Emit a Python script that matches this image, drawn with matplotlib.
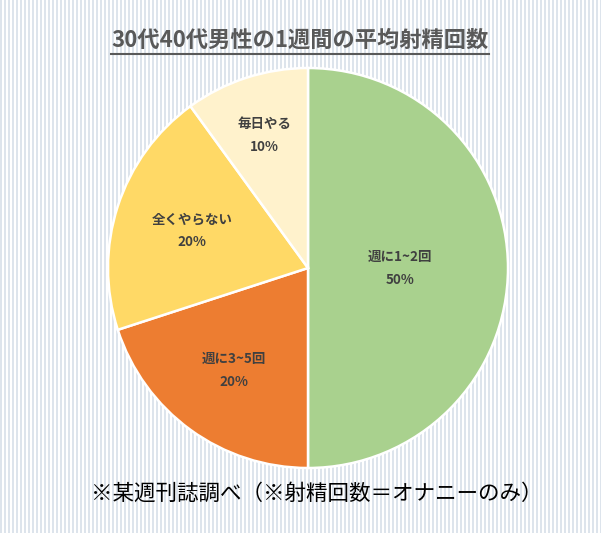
import numpy as np
import matplotlib
matplotlib.use("Agg")
import matplotlib.pyplot as plt
from matplotlib.lines import Line2D

plt.rcParams['font.family'] = ['Noto Sans CJK JP', 'DejaVu Sans']

title = "30代40代男性の1週間の平均射精回数"
categories = ["週に1~2回", "週に3~5回", "全くやらない", "毎日やる"]
values = [50, 20, 20, 10]
colors = ["#A9D18E", "#ED7D31", "#FFD966", "#FFF2CC"]
label_dist = [0.46, 0.63, 0.61, 0.70]
footnote = "※某週刊誌調べ（※射精回数＝オナニーのみ）"

W, H = 601, 533
fig = plt.figure(figsize=(W / 100, H / 100), dpi=100)

# striped background
bg = np.ones((H, W, 3))
stripe = np.array([0xDD, 0xE4, 0xEC]) / 255.0
cols = np.arange(W)
mask = (cols % 4) < 2
bg[:, mask, :] = stripe
fig.figimage(bg, xo=0, yo=0, zorder=-10)

ax = fig.add_axes([108 / W, (H - 468) / H, 400 / W, 400 / H])
ax.set_zorder(5)
ax.set_facecolor("none")
ax.patch.set_alpha(0)
wedges, _ = ax.pie(values, colors=colors, startangle=90, counterclock=False,
                   wedgeprops=dict(edgecolor="white", linewidth=1.8))
ax.set_xlim(-1, 1)
ax.set_ylim(-1, 1)
ax.set_aspect("equal")
ax.axis("off")

for w, cat, v, d in zip(wedges, categories, values, label_dist):
    ang = np.deg2rad((w.theta1 + w.theta2) / 2)
    x, y = d * np.cos(ang), d * np.sin(ang)
    ax.text(x, y + 0.055, cat, ha="center", va="center", fontsize=9.7,
            fontweight="bold", color="#404040")
    ax.text(x, y - 0.06, f"{v}%", ha="center", va="center", fontsize=9.7,
            fontweight="bold", color="#404040")

t = fig.text(300 / W, 1 - 40 / H, title, ha="center", va="center",
             fontsize=16, fontweight="bold", color="#595959", zorder=6)
fig.canvas.draw()
bb = t.get_window_extent()
yline = (bb.y0 - 2) / H
fig.add_artist(Line2D([bb.x0 / W, bb.x1 / W], [yline, yline],
                      color="#595959", linewidth=1.5, zorder=6))

fig.text(317 / W, 1 - 494 / H, footnote, ha="center", va="center",
         fontsize=15.5, color="#000000", zorder=6)

fig.savefig("out.png", dpi=100)
